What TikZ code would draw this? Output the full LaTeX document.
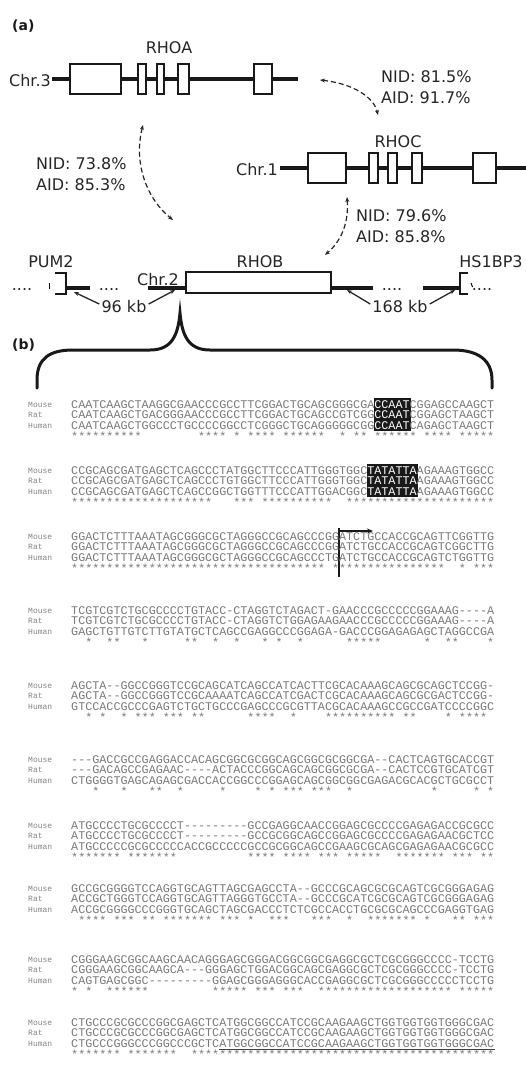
\documentclass[tikz,border=0pt]{standalone}
\usepackage{fontspec}
\setmonofont{Liberation Mono}
\newfontfamily\lblfont{DejaVu Sans}
\usetikzlibrary{arrows.meta}
\ExplSyntaxOn
\tl_new:N \l__rs_stars_tl
\cs_new_protected:Npn \rsstars #1#2#3
  {
    \tl_clear:N \l__rs_stars_tl
    \int_step_inline:nn { \tl_count:n {#1} }
      {
        \str_if_eq:eeTF { \tl_item:nn {#1} {##1} } { \tl_item:nn {#2} {##1} }
          {
            \str_if_eq:eeTF { \tl_item:nn {#1} {##1} } { \tl_item:nn {#3} {##1} }
              { \tl_put_right:Nn \l__rs_stars_tl { * } }
              { \tl_put_right:Nn \l__rs_stars_tl { \hphantom{*} } }
          }
          { \tl_put_right:Nn \l__rs_stars_tl { \hphantom{*} } }
      }
    \tl_use:N \l__rs_stars_tl
  }
\ExplSyntaxOff
% #1 id, #2 y, #3-#5 plain sequences (for stars), #6-#8 displayed sequences
\newcommand\rsblockx[8]{%
  \node[seqlab] (lm#1) at (28,-#2-2.5) {Mouse};
  \node[seqlab] (lr#1) at (28,-#2-12.8) {Rat};
  \node[seqlab] (lh#1) at (28,-#2-23.1) {Human};
  \node[seqtxt] (m#1) at (71,-#2-3.4) {#6};
  \node[seqtxt] (r#1) at (71,-#2-13.7) {#7};
  \node[seqtxt] (h#1) at (71,-#2-24) {#8};
  \node[seqtxt] (s#1) at (71,-#2-35) {\rsstars{#3}{#4}{#5}};
}
\newcommand\rsblock[5]{\rsblockx{#1}{#2}{#3}{#4}{#5}{#3}{#4}{#5}}
\newcommand\wh[1]{\textcolor{white}{#1}}
\begin{document}
\begin{tikzpicture}[x=1pt,y=1pt,
  lbl/.style={font=\lblfont\fontsize{16}{18}\selectfont, text=black!85, inner sep=0},
  panel/.style={font=\lblfont\bfseries\fontsize{14}{16}\selectfont, text=black!90, inner sep=0},
  exon/.style={draw=black!90, line width=1.5, fill=white},
  chrom/.style={line width=4, draw=black!90},
  dasharr/.style={dash pattern=on 5pt off 3pt, line width=1.2, draw=black!85,
     {Stealth[length=5pt,width=4pt]}-{Stealth[length=5pt,width=4pt]}},
  kbarr/.style={line width=1.3, draw=black!85, -{Stealth[length=5pt,width=4pt]}},
  brk/.style={line width=1.5, draw=black!90},
  seqtxt/.style={font=\ttfamily\fontsize{11.75}{12}\selectfont, text=black!52, inner sep=0, anchor=base west},
  seqlab/.style={font=\ttfamily\fontsize{8}{9}\selectfont, text=black!48, inner sep=0, anchor=base west}
]
\useasboundingbox (0,0) rectangle (525,-1074);
\fill[white] (0,0) rectangle (525,-1074);

% ---------- panel (a) ----------
\node[panel, anchor=base west] (pa) at (12,-30) {(a)};

% RHOA on Chr.3
\node[lbl, anchor=base east] (chr3) at (51,-86) {Chr.3};
\draw[chrom] (52,-79) -- (298,-79);
\draw[exon] (70,-64) rectangle (121,-94);
\draw[exon] (138,-64) rectangle (146,-94);
\draw[exon] (157,-64) rectangle (164,-94);
\draw[exon] (178,-64) rectangle (189,-94);
\draw[exon] (254,-64) rectangle (272,-94);
\node[lbl, anchor=base] (rhoa) at (169,-53) {RHOA};

% RHOC on Chr.1
\node[lbl, anchor=base east] (chr1) at (278,-175) {Chr.1};
\draw[chrom] (280,-168) -- (526,-168);
\draw[exon] (308,-153) rectangle (346,-183);
\draw[exon] (369,-153) rectangle (378,-183);
\draw[exon] (388,-153) rectangle (397,-183);
\draw[exon] (412,-153) rectangle (422,-183);
\draw[exon] (473,-153) rectangle (496,-183);
\node[lbl, anchor=base] (rhoc) at (398,-147) {RHOC};

% identity labels
\node[lbl, anchor=base west] (nid1) at (381,-82) {NID: 81.5\%};
\node[lbl, anchor=base west] (aid1) at (381,-103) {AID: 91.7\%};
\node[lbl, anchor=base west] (nid2) at (36,-169) {NID: 73.8\%};
\node[lbl, anchor=base west] (aid2) at (36,-190) {AID: 85.3\%};
\node[lbl, anchor=base west] (nid3) at (356,-221) {NID: 79.6\%};
\node[lbl, anchor=base west] (aid3) at (356,-242) {AID: 85.8\%};

% dashed relation arrows
\coordinate (eA1) at (320,-80);
\coordinate (eC1) at (378,-115);
\draw[dasharr] (eA1) .. controls (355,-84) and (374,-98) .. (eC1);
\coordinate (eA2) at (143,-125);
\coordinate (eB2) at (173,-220);
\draw[dasharr] (eA2) .. controls (133,-165) and (148,-200) .. (eB2);
\coordinate (eC3) at (347,-197);
\coordinate (eB3) at (325,-255);
\draw[dasharr] (eC3) .. controls (349,-225) and (340,-242) .. (eB3);

% RHOB on Chr.2 with neighbours
\node[lbl, anchor=base] (pum2) at (51,-267) {PUM2};
\node[lbl, anchor=base] (rhob) at (260,-267) {RHOB};
\node[lbl, anchor=base] (hs1) at (491,-267) {HS1BP3};
\node[lbl, anchor=base] (dots1) at (22,-290.5) {....};
\node[lbl, anchor=base] (dots2) at (109,-290.5) {....};
\node[lbl, anchor=base] (dots3) at (392,-290.5) {....};
\node[lbl, anchor=base] (dots4) at (482,-290.5) {....};
\draw[line width=1] (49,-283) -- (49,-289);
\draw[line width=1] (471,-283) -- (472.5,-287);
\draw[brk] (55,-273) -- (66,-273) -- (66,-294) -- (55,-294);
\draw[brk] (468,-273) -- (460,-273) -- (460,-294) -- (468,-294);
\draw[chrom] (66,-288) -- (90,-288);
\draw[chrom] (148,-288) -- (186,-288);
\draw[chrom] (331,-288) -- (373,-288);
\draw[chrom] (423,-288) -- (460,-288);
\draw[exon] (186,-272) rectangle (331,-293);
\node[lbl, anchor=base] (chr2) at (158,-285) {Chr.2};

\node[lbl, anchor=base] (kb96) at (124,-312) {96 kb};
\node[lbl, anchor=base] (kb168) at (400,-312) {168 kb};
\coordinate (k1) at (74,-292);
\coordinate (k2) at (175,-290);
\coordinate (k3) at (347,-290);
\coordinate (k4) at (455,-290);
\draw[kbarr] ([xshift=-2pt,yshift=2pt]kb96.west) -- (k1);
\draw[kbarr] ([xshift=2pt,yshift=2pt]kb96.east) -- (k2);
\draw[kbarr] ([xshift=-2pt,yshift=2pt]kb168.west) -- (k3);
\draw[kbarr] ([xshift=2pt,yshift=2pt]kb168.east) -- (k4);

% ---------- panel (b) ----------
\node[panel, anchor=base west] (pb) at (12,-349) {(b)};
\draw[line width=3, draw=black!90, line cap=round]
  (37,-388) -- (37,-380) .. controls (37,-358) and (50,-350) .. (73,-350)
  -- (150,-350) .. controls (172,-350) and (178,-335) .. (180,-313)
  .. controls (182,-335) and (188,-350) .. (210,-350)
  -- (453,-350) .. controls (478,-350) and (492,-360) .. (492,-380) -- (492,-388);

% highlight boxes behind the text
\fill[black!90] (374,-398) rectangle (410.5,-431);
\fill[black!90] (367,-464) rectangle (417.5,-497);

\rsblockx{1}{405}{CAATCAAGCTAAGGCGAACCCGCCTTCGGACTGCAGCGGGCGACCAATCGGAGCCAAGCT}{CAATCAAGCTGACGGGAACCCGCCTTCGGACTGCAGCCGTCGGCCAATCGGAGCTAAGCT}{CAATCAAGCTGGCCCTGCCCCGGCCTCGGGCTGCAGGGGGCGGCCAATCAGAGCTAAGCT}%
{CAATCAAGCTAAGGCGAACCCGCCTTCGGACTGCAGCGGGCGA\wh{CCAAT}CGGAGCCAAGCT}{CAATCAAGCTGACGGGAACCCGCCTTCGGACTGCAGCCGTCGG\wh{CCAAT}CGGAGCTAAGCT}{CAATCAAGCTGGCCCTGCCCCGGCCTCGGGCTGCAGGGGGCGG\wh{CCAAT}CAGAGCTAAGCT}

\rsblockx{2}{471}{CCGCAGCGATGAGCTCAGCCCTATGGCTTCCCATTGGGTGGCTATATTAAGAAAGTGGCC}{CCGCAGCGATGAGCTCAGCCCTGTGGCTTCCCATTGGGTGGCTATATTAAGAAAGTGGCC}{CCGCAGCGATGAGCTCAGCCGGCTGGTTTCCCATTGGACGGCTATATTAAGAAAGTGGCC}%
{CCGCAGCGATGAGCTCAGCCCTATGGCTTCCCATTGGGTGGC\wh{TATATTA}AGAAAGTGGCC}{CCGCAGCGATGAGCTCAGCCCTGTGGCTTCCCATTGGGTGGC\wh{TATATTA}AGAAAGTGGCC}{CCGCAGCGATGAGCTCAGCCGGCTGGTTTCCCATTGGACGGC\wh{TATATTA}AGAAAGTGGCC}

% transcription start arrow
\coordinate (ts0) at (339,-577);
\coordinate (ts1) at (339,-528);
\coordinate (ts2) at (339,-531);
\coordinate (ts3) at (373,-531);
\draw[line width=1.3, draw=black!90] (ts0) -- (ts1);
\draw[line width=1.3, draw=black!90, -{Stealth[length=6pt,width=5pt]}] (ts2) -- (ts3);

\rsblock{3}{537}{GGACTCTTTAAATAGCGGGCGCTAGGGCCGCAGCCCGGATCTGCCACCGCAGTTCGGTTG}{GGACTCTTTAAATAGCGGGCGCTAGGGCCGCAGCCCGGATCTGCCACCGCAGTCGGCTTG}{GGACTCTTTAAATAGCGGGCGCTAGGGCCGCAGCCCTGATCTGCCACCGCAGTCTGGTTG}
\rsblock{4}{611}{TCGTCGTCTGCGCCCCTGTACC-CTAGGTCTAGACT-GAACCCGCCCCCGGAAAG----A}{TCGTCGTCTGCGCCCCTGTACC-CTAGGTCTGGAGAAGAACCCGCCCCCGGAAAG----A}{GAGCTGTTGTCTTGTATGCTCAGCCGAGGCCCGGAGA-GACCCGGAGAGAGCTAGGCCGA}
\rsblock{5}{686}{AGCTA--GGCCGGGTCCGCAGCATCAGCCATCACTTCGCACAAAGCAGCGCAGCTCCGG-}{AGCTA--GGCCGGGTCCGCAAAATCAGCCATCGACTCGCACAAAGCAGCGCGACTCCGG-}{GTCCACCGCCCGAGTCTGCTGCCCGAGCCCGCGTTACGCACAAAGCCGCCGATCCCCGGC}
\rsblock{6}{760}{---GACCGCCGAGGACCACAGCGGCGCGGCAGCGGCGCGGCGA--CACTCAGTGCACCGT}{---GACAGCCGAGAAC----ACTACCCGGCAGCAGCGGCGCGA--CACTCCGTGCATCGT}{CTGGGGTGAGCAGAGCGACCACCGGCCCGGAGCAGCGGCGGCGAGACGCACGCTGCGCCT}
\rsblock{7}{826}{ATGCCCCTGCGCCCCT---------GCCGAGGCAACCGGAGCGCCCCGAGAGACCGCGCC}{ATGCCCCTGCGCCCCT---------GCCGCGGCAGCCGGAGCGCCCCGAGAGAACGCTCC}{ATGCCCCCGCGCCCCCACCGCCCCCGCCGCGGCAGCCGAAGCGCAGCGAGAGAACGCGCC}
\rsblock{8}{889}{GCCGCGGGGTCCAGGTGCAGTTAGCGAGCCTA--GCCCGCAGCGCGCAGTCGCGGGAGAG}{ACCGCTGGGTCCAGGTGCAGTTAGGGTGCCTA--GCCCGCATCGCGCAGTCGCGGGAGAG}{ACCGCGGGGCCCGGGTGCAGCTAGCGACCCTCTCGCCACCTGCGCGCAGCCCGAGGTGAG}
\rsblock{9}{960}{CGGGAAGCGGCAAGCAACAGGGAGCGGGACGGCGGCGAGGCGCTCGCGGGCCCC-TCCTG}{CGGGAAGCGGCAAGCA---GGGAGCTGGACGGCAGCGAGGCGCTCGCGGGCCCC-TCCTG}{CAGTGAGCGGC---------GGAGCGGGAGGGCACCGAGGCGCTCGCGGGCCCCCTCCTG}
\rsblock{10}{1023}{CTGCCCGCGCCCGGCGAGCTCATGGCGGCCATCCGCAAGAAGCTGGTGGTGGTGGGCGAC}{CTGCCCGCGCCCGGCGAGCTCATGGCGGCCATCCGCAAGAAGCTGGTGGTGGTGGGCGAC}{CTGCCCGGGCCCGGCCCGCTCATGGCGGCCATCCGCAAGAAGCTGGTGGTGGTGGGCGAC}
\coordinate (ul0) at (219,-1049.5);
\coordinate (ul1) at (494.5,-1049.5);
\draw[line width=1.5, draw=black!75] (ul0) -- (ul1);
\end{tikzpicture}
\end{document}
